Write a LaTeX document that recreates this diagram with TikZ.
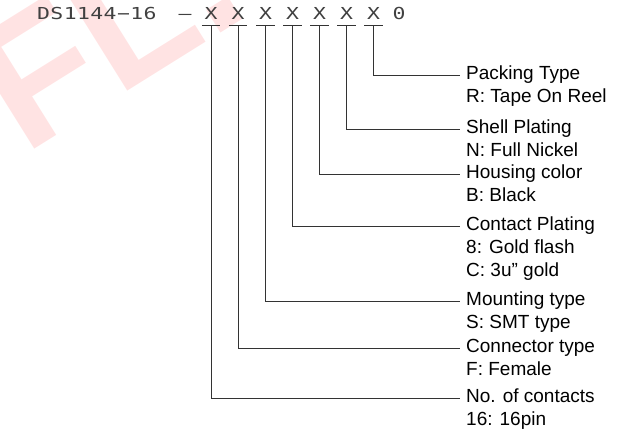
\documentclass[tikz,border=0pt]{standalone}
\usepackage{fontspec}
\setmainfont{Liberation Sans}
\newfontfamily\hdfont[FakeStretch=1.3]{DejaVu Sans Mono}
\newfontfamily\pnfont[FakeStretch=1.3,LetterSpace=2.4]{DejaVu Sans Mono}

\begin{document}
\begin{tikzpicture}[x=1pt,y=-1pt,
    hdr/.style={font=\hdfont\fontsize{16.5}{20}\selectfont, text=black!75, inner sep=0pt},
    xch/.style={hdr, anchor=base, minimum width=18pt, text depth=5pt},
    lbl/.style={font=\fontsize{19}{23}\selectfont, align=left, anchor=base west, inner sep=0pt},
    lead/.style={draw=black!80, line width=0.9pt}]

    \useasboundingbox (0,0) rectangle (619,438);

    % watermark
    \node (wm) [font=\fontsize{180}{180}\selectfont\bfseries, text=red!11, rotate=32, anchor=base west, inner sep=0pt] at (24,156) {FL.};

    \node (pn) [hdr, anchor=base west] at (37,20) {\pnfont DS1144−16};
    \node (dash) [hdr, anchor=base] at (185,20) {–};
    \node (x1) [xch] at (211,20) {X};
    \node (x2) [xch] at (238,20) {X};
    \node (x3) [xch] at (265.5,20) {X};
    \node (x4) [xch] at (292.5,20) {X};
    \node (x5) [xch] at (319.5,20) {X};
    \node (x6) [xch] at (346.5,20) {X};
    \node (x7) [xch] at (373.5,20) {X};
    \node (zero) [hdr, anchor=base] at (399,20) {0};

    \coordinate (c1) at (460,398);
    \coordinate (c2) at (460,348);
    \coordinate (c3) at (460,301);
    \coordinate (c4) at (460,226);
    \coordinate (c5) at (460,174);
    \coordinate (c6) at (460,129);
    \coordinate (c7) at (460,75);

    % base = last line, so shift by the lines below the title
    \node (l7) [lbl] at ([shift={(6,28)}]c7) {Packing Type\\R: Tape On Reel};
    \node (l6) [lbl] at ([shift={(6,28)}]c6) {Shell Plating\\N: Full Nickel};
    \node (l5) [lbl] at ([shift={(6,28)}]c5) {Housing color\\B: Black};
    \node (l4) [lbl] at ([shift={(6,51)}]c4) {Contact Plating\\8: Gold flash\\C: 3u" gold};
    \node (l3) [lbl] at ([shift={(6,28)}]c3) {Mounting type\\S: SMT type};
    \node (l2) [lbl] at ([shift={(6,28)}]c2) {Connector type\\F: Female};
    \node (l1) [lbl] at ([shift={(6,28)}]c1) {No. of contacts\\16: 16pin};

    \draw[lead] (x1.south west) -- (x1.south east);
    \draw[lead] (x2.south west) -- (x2.south east);
    \draw[lead] (x3.south west) -- (x3.south east);
    \draw[lead] (x4.south west) -- (x4.south east);
    \draw[lead] (x5.south west) -- (x5.south east);
    \draw[lead] (x6.south west) -- (x6.south east);
    \draw[lead] (x7.south west) -- (x7.south east);

    \draw[lead] (x1.south) |- (c1);
    \draw[lead] (x2.south) |- (c2);
    \draw[lead] (x3.south) |- (c3);
    \draw[lead] (x4.south) |- (c4);
    \draw[lead] (x5.south) |- (c5);
    \draw[lead] (x6.south) |- (c6);
    \draw[lead] (x7.south) |- (c7);

\end{tikzpicture}
\end{document}
